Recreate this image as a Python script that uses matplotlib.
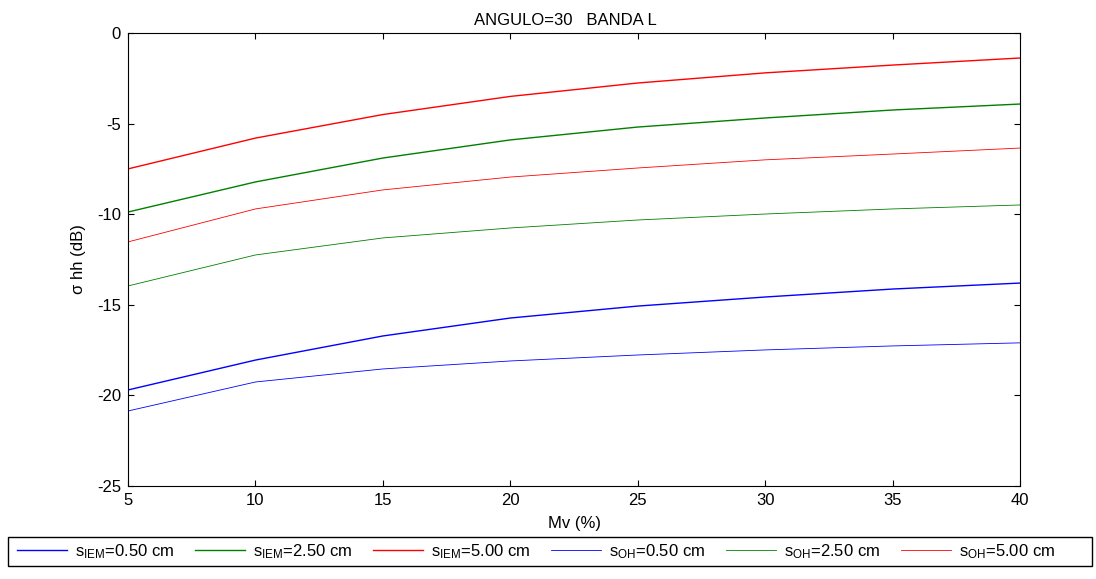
import numpy as np
import matplotlib.pyplot as plt
from matplotlib.patches import Rectangle

plt.rcParams['font.family'] = ['Liberation Sans', 'DejaVu Sans']
plt.rcParams['mathtext.default'] = 'regular'
plt.rcParams['axes.unicode_minus'] = False
plt.rcParams['font.size'] = 12

mv = [5, 10, 15, 20, 25, 30, 35, 40]

iem_050 = [-19.7, -18.05, -16.72, -15.73, -15.07, -14.57, -14.13, -13.8]
iem_250 = [-9.88, -8.22, -6.9, -5.9, -5.19, -4.69, -4.25, -3.92]
iem_500 = [-7.5, -5.8, -4.5, -3.5, -2.76, -2.2, -1.77, -1.38]
oh_050 = [-20.86, -19.26, -18.54, -18.1, -17.77, -17.49, -17.27, -17.1]
oh_250 = [-13.96, -12.25, -11.31, -10.76, -10.32, -9.99, -9.71, -9.49]
oh_500 = [-11.53, -9.71, -8.66, -7.95, -7.45, -7.0, -6.68, -6.35]

fig = plt.figure(figsize=(10.96, 5.79), dpi=100)
ax = fig.add_axes([128/1096, 93/579, 892/1096, 453/579])

blue = (0, 0, 1)
green = (0, 0.5, 0)
red = (1, 0, 0)

ax.plot(mv, iem_050, color=blue, lw=1.0, label='s$_{IEM}$=0.50 cm')
ax.plot(mv, iem_250, color=green, lw=1.0, label='s$_{IEM}$=2.50 cm')
ax.plot(mv, iem_500, color=red, lw=1.0, label='s$_{IEM}$=5.00 cm')
ax.plot(mv, oh_050, color=blue, lw=0.6, label='s$_{OH}$=0.50 cm')
ax.plot(mv, oh_250, color=green, lw=0.6, label='s$_{OH}$=2.50 cm')
ax.plot(mv, oh_500, color=red, lw=0.6, label='s$_{OH}$=5.00 cm')

ax.set_xlim(5, 40)
ax.set_ylim(-25, 0)
ax.set_xticks(mv)
ax.set_yticks([-25, -20, -15, -10, -5, 0])
ax.tick_params(direction='in', top=True, right=True, length=4, width=0.8, labelsize=12, pad=5)
for s in ax.spines.values():
    s.set_linewidth(0.8)

ax.set_title('ANGULO=30   BANDA L', fontsize=12, pad=6, x=0.49)
ax.set_xlabel('Mv (%)', fontsize=12, labelpad=6)
ax.set_ylabel('σ hh (dB)', fontsize=12, labelpad=8)

# legend frame drawn by hand so it spans the figure like the original
fig.patches.append(Rectangle((8/1096, 13/579), 1084/1096, 29/579, transform=fig.transFigure,
                             fill=False, edgecolor='black', lw=1.0))
h, l = ax.get_legend_handles_labels()
leg = fig.legend(h, l, ncol=6, loc='lower left', mode='expand',
                 bbox_to_anchor=(12/1096, 13/579, 1048/1096, 29/579),
                 fontsize=12, frameon=False, handlelength=3,
                 borderaxespad=0, borderpad=0.3, handletextpad=0.5, columnspacing=0.6)

fig.savefig('out.png', dpi=100)
